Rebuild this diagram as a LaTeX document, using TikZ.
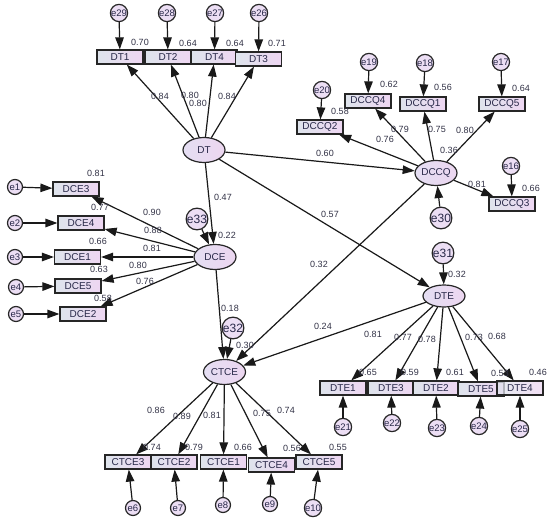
\documentclass[tikz,border=0pt]{standalone}
\usepackage{fontspec}
\setmainfont{Liberation Sans}
\usetikzlibrary{shapes.geometric,arrows.meta}
\definecolor{boxl}{RGB}{222,228,236}
\definecolor{boxr}{RGB}{238,214,242}
\definecolor{latl}{RGB}{228,222,242}
\definecolor{latr}{RGB}{236,214,240}
\definecolor{errc}{RGB}{236,222,244}
\definecolor{txt}{RGB}{40,40,72}
\definecolor{lbc}{RGB}{50,50,70}
\begin{document}
\begin{tikzpicture}[x=1pt,y=-1pt,
 obs/.style={draw=black!85, line width=1.2pt, minimum width=46pt, minimum height=14pt, inner sep=0pt, left color=boxl, right color=boxr, text=txt, font=\fontsize{10}{10}\selectfont},
 lat/.style={ellipse, draw=black!85, line width=1.2pt, minimum width=42pt, minimum height=25pt, inner sep=0pt, left color=latl, right color=latr, text=txt, font=\fontsize{10}{10}\selectfont},
 err/.style={circle, draw=black!85, line width=1.2pt, minimum size=15pt, inner sep=0pt, fill=errc, font=\fontsize{9.5}{9}\selectfont, text=txt},
 errb/.style={err, minimum size=20pt, font=\fontsize{12}{12}\selectfont},
 lbl/.style={font=\fontsize{9}{9}\selectfont, text=lbc, inner sep=0pt},
 arr/.style={-{Triangle[length=12pt,width=8.5pt]}, line width=1.2pt, draw=black!90}
]
\fill[white] (0,0) rectangle (550,521);
\useasboundingbox (0,0) rectangle (550,521);

% latent variables
\node[lat] (DT) at (204,150) {DT};
\node[lat] (DCCQ) at (436,173) {DCCQ};
\node[lat] (DCE) at (215,257) {DCE};
\node[lat] (CTCE) at (224.5,372) {CTCE};
\node[lat, minimum height=22pt] (DTE) at (444,296) {DTE};

% DT indicators
\node[obs] (DT1) at (120,57) {DT1};
\node[obs] (DT2) at (168,57) {DT2};
\node[obs] (DT4) at (214.5,57) {DT4};
\node[obs] (DT3) at (258.5,59) {DT3};
\node[err] (e29) at (119,13) {e29};
\node[err] (e28) at (167,13) {e28};
\node[err] (e27) at (215,13) {e27};
\node[err] (e26) at (259,13) {e26};

% DCCQ indicators
\node[obs] (DCCQ2) at (320,127) {DCCQ2};
\node[obs] (DCCQ4) at (368,101) {DCCQ4};
\node[obs] (DCCQ1) at (423,104) {DCCQ1};
\node[obs] (DCCQ5) at (502,104) {DCCQ5};
\node[obs] (DCCQ3) at (512,204) {DCCQ3};
\node[err] (e20) at (322,90) {e20};
\node[err] (e19) at (369,62) {e19};
\node[err] (e18) at (425,63) {e18};
\node[err] (e17) at (501,62) {e17};
\node[err] (e16) at (511,166) {e16};
\node[errb] (e30) at (441,218) {e30};

% DCE indicators
\node[obs] (DCE3) at (76,189) {DCE3};
\node[obs] (DCE4) at (81,223) {DCE4};
\node[obs] (DCE1) at (77.5,257) {DCE1};
\node[obs] (DCE5) at (78,286) {DCE5};
\node[obs] (DCE2) at (83,314) {DCE2};
\node[err] (e1) at (15,187) {e1};
\node[err] (e2) at (15,223) {e2};
\node[err] (e3) at (15,257) {e3};
\node[err] (e4) at (16,287) {e4};
\node[err] (e5) at (16,314) {e5};
\node[errb] (e33) at (197,219) {e33};

% CTCE indicators
\node[obs] (CTCE3) at (128,462) {CTCE3};
\node[obs] (CTCE2) at (174,462) {CTCE2};
\node[obs] (CTCE1) at (223.5,462) {CTCE1};
\node[obs] (CTCE4) at (271.5,465) {CTCE4};
\node[obs] (CTCE5) at (319,462) {CTCE5};
\node[err] (e6) at (133,508) {e6};
\node[err] (e7) at (178,508) {e7};
\node[err] (e8) at (223,505) {e8};
\node[err] (e9) at (270,504) {e9};
\node[err] (e10) at (313,508) {e10};
\node[errb] (e32) at (233,328) {e32};

% DTE indicators
\node[obs] (DTE1) at (343,388) {DTE1};
\node[obs] (DTE3) at (391,388) {DTE3};
\node[obs] (DTE2) at (436,388) {DTE2};
\node[obs] (DTE5) at (481,389) {DTE5};
\node[obs, fill opacity=0.75, text opacity=1] (DTE4) at (520,388) {DTE4};
\node[err] (e21) at (343,427) {e21};
\node[err] (e22) at (392,423) {e22};
\node[err] (e23) at (437,428) {e23};
\node[err] (e24) at (479,426) {e24};
\node[err] (e25) at (520,429) {e25};
\node[errb] (e31) at (443,253) {e31};

% structural paths
\draw[arr] (DT) -- (DCE);
\draw[arr] (DT) -- (DCCQ);
\draw[arr] (DT) -- (DTE);
\draw[arr] (DCE) -- (CTCE);
\draw[arr] (DCCQ) -- (CTCE);
\draw[arr] (DTE) -- (CTCE);

% loadings
\foreach \i in {DT1,DT2,DT4,DT3} \draw[arr] (DT) -- (\i);
\foreach \i in {DCCQ2,DCCQ4,DCCQ1,DCCQ5,DCCQ3} \draw[arr] (DCCQ) -- (\i);
\foreach \i in {DCE3,DCE4,DCE1,DCE5,DCE2} \draw[arr] (DCE) -- (\i);
\foreach \i in {CTCE3,CTCE2,CTCE1,CTCE4,CTCE5} \draw[arr] (CTCE) -- (\i);
\foreach \i in {DTE1,DTE3,DTE2,DTE5,DTE4} \draw[arr] (DTE) -- (\i);

% errors
\draw[arr] (e29) -- (DT1);
\draw[arr] (e28) -- (DT2);
\draw[arr] (e27) -- (DT4);
\draw[arr] (e26) -- (DT3);
\draw[arr] (e20) -- (DCCQ2);
\draw[arr] (e19) -- (DCCQ4);
\draw[arr] (e18) -- (DCCQ1);
\draw[arr] (e17) -- (DCCQ5);
\draw[arr] (e16) -- (DCCQ3);
\draw[arr] (e30) -- (DCCQ);
\draw[arr] (e1) -- (DCE3);
\draw[arr] (e2) -- (DCE4);
\draw[arr] (e3) -- (DCE1);
\draw[arr] (e4) -- (DCE5);
\draw[arr] (e5) -- (DCE2);
\draw[arr] (e33) -- (DCE);
\draw[arr] (e6) -- (CTCE3);
\draw[arr] (e7) -- (CTCE2);
\draw[arr] (e8) -- (CTCE1);
\draw[arr] (e9) -- (CTCE4);
\draw[arr] (e10) -- (CTCE5);
\draw[arr] (e32) -- (CTCE);
\draw[arr] (e21) -- (DTE1);
\draw[arr] (e22) -- (DTE3);
\draw[arr] (e23) -- (DTE2);
\draw[arr] (e24) -- (DTE5);
\draw[arr] (e25) -- (DTE4);
\draw[arr] (e31) -- (DTE);

% labels
\node[lbl] (l1) at (140,42) {0.70};
\node[lbl] (l2) at (188,43) {0.64};
\node[lbl] (l3) at (235,43) {0.64};
\node[lbl] (l4) at (277,43) {0.71};
\node[lbl] (l5) at (160,96) {0.84};
\node[lbl] (l6) at (190,95) {0.80};
\node[lbl] (l7) at (198,103) {0.80};
\node[lbl] (l8) at (227,96) {0.84};

\node[lbl] (l9) at (389,84) {0.62};
\node[lbl] (l10) at (443,87) {0.56};
\node[lbl] (l11) at (521,88) {0.64};
\node[lbl] (l12) at (340,111) {0.58};
\node[lbl] (l13) at (531,188) {0.66};
\node[lbl] (l14) at (400,129) {0.79};
\node[lbl] (l15) at (437,129) {0.75};
\node[lbl] (l16) at (465,130) {0.80};
\node[lbl] (l17) at (385,139) {0.76};
\node[lbl] (l18) at (449,150) {0.36};
\node[lbl] (l19) at (325,153) {0.60};
\node[lbl] (l20) at (477,184) {0.81};
\node[lbl] (l21) at (330,214) {0.57};

\node[lbl] (l22) at (96,173) {0.81};
\node[lbl] (l23) at (100,207) {0.77};
\node[lbl] (l24) at (98,241) {0.66};
\node[lbl] (l25) at (99,269) {0.63};
\node[lbl] (l26) at (103,298) {0.58};
\node[lbl] (l27) at (152,212) {0.90};
\node[lbl] (l28) at (153,230) {0.88};
\node[lbl] (l29) at (152,248) {0.81};
\node[lbl] (l30) at (138,265) {0.80};
\node[lbl] (l31) at (145,281) {0.76};
\node[lbl] (l32) at (223,197) {0.47};
\node[lbl] (l33) at (227,235) {0.22};
\node[lbl] (l34) at (230,308) {0.18};

\node[lbl] (l35) at (457,274) {0.32};
\node[lbl] (l36) at (319,264) {0.32};
\node[lbl] (l37) at (245,345) {0.30};
\node[lbl] (l38) at (323,326) {0.24};
\node[lbl] (l39) at (373,334) {0.81};
\node[lbl] (l40) at (403,337) {0.77};
\node[lbl] (l41) at (427,339) {0.78};
\node[lbl] (l42) at (474,337) {0.73};
\node[lbl] (l43) at (497,336) {0.68};
\node[lbl] (l44) at (368,372) {0.65};
\node[lbl] (l45) at (410,372) {0.59};
\node[lbl] (l46) at (455,372) {0.61};
\node[lbl] (l47) at (500,373) {0.53};
\node[lbl] (l48) at (538,372) {0.46};

\node[lbl] (l49) at (152,447) {0.74};
\node[lbl] (l50) at (194,447) {0.79};
\node[lbl] (l51) at (243,447) {0.66};
\node[lbl] (l52) at (292,448) {0.56};
\node[lbl] (l53) at (338,447) {0.55};
\node[lbl] (l54) at (156,410) {0.86};
\node[lbl] (l55) at (182,416) {0.89};
\node[lbl] (l56) at (212,415) {0.81};
\node[lbl] (l57) at (262,413) {0.75};
\node[lbl] (l58) at (286,410) {0.74};
\end{tikzpicture}
\end{document}
